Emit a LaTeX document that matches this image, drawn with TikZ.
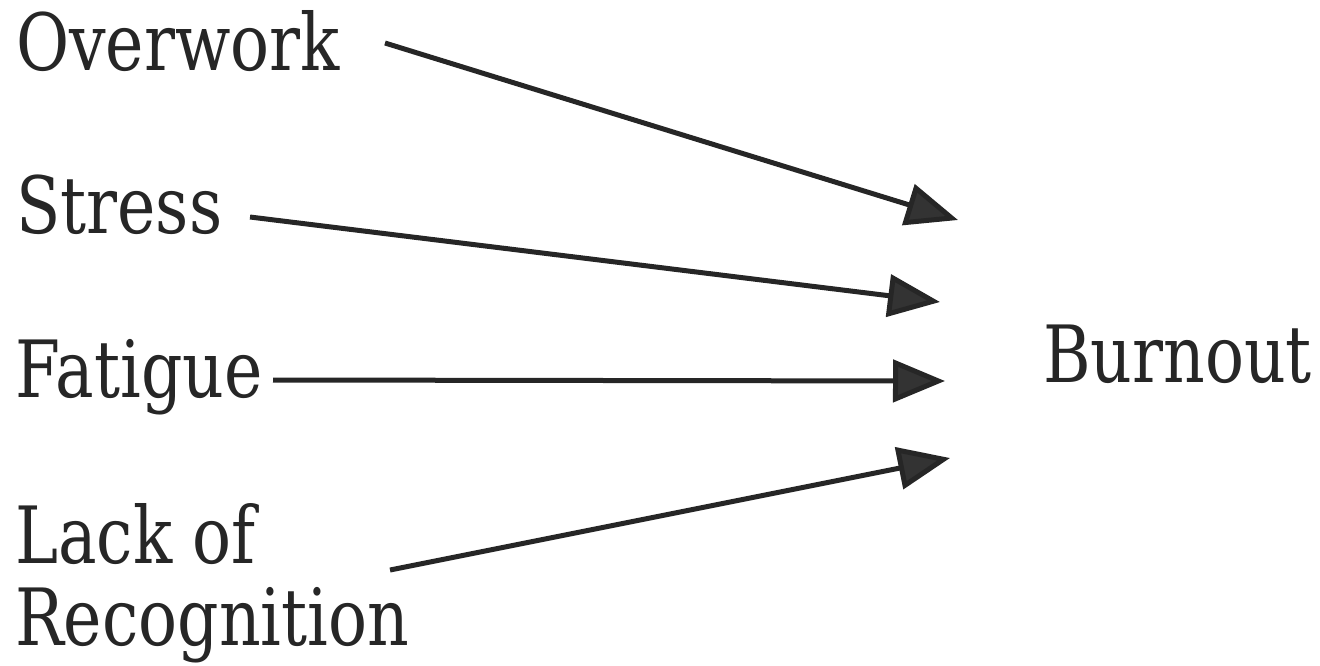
\documentclass[tikz,border=0pt]{standalone}
\usepackage{fontspec}
\setmainfont{DejaVu Serif}[FakeStretch=0.82]
\usetikzlibrary{arrows.meta}
\begin{document}
\begin{tikzpicture}[x=1pt,y=-1pt,
  lbl/.style={anchor=base west,inner sep=0pt,font=\fontsize{79}{82}\selectfont,text=black!85},
  arr/.style={line width=5pt,draw=black!85,-{Triangle[length=52pt,width=42pt,fill=black!80]}}]
\useasboundingbox (0,0) rectangle (1320,665);
\node[lbl] (ow) at (16,70) {Overwork};
\node[lbl] (st) at (16,233) {Stress};
\node[lbl] (fa) at (15,397) {Fatigue};
\node[lbl,align=left] (lr) at (15,645) {Lack of\\Recognition};
\node[lbl] (bo) at (1043,382) {Burnout};
\coordinate (s1) at (385,43);
\coordinate (s2) at (250,217);
\coordinate (s3) at (273,380);
\coordinate (s4) at (390,570);
\coordinate (t1) at (958,220);
\coordinate (t2) at (940,302);
\coordinate (t3) at (945,381);
\coordinate (t4) at (950,458);
\draw[arr] (s1) -- (t1);
\draw[arr] (s2) -- (t2);
\draw[arr] (s3) -- (t3);
\draw[arr] (s4) -- (t4);
\end{tikzpicture}
\end{document}
